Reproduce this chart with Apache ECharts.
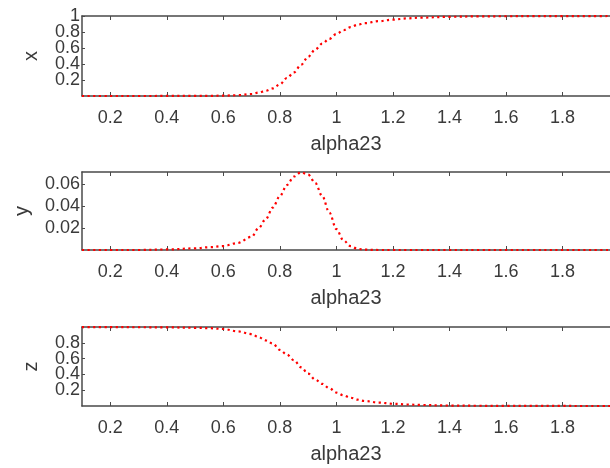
<!DOCTYPE html>
<html>
<head>
<meta charset="utf-8">
<script src="https://cdn.jsdelivr.net/npm/echarts@6/dist/echarts.min.js"></script>
<style>
  html, body { margin: 0; padding: 0; background: #fff; }
  #chart { width: 610px; height: 468px; }
</style>
</head>
<body>
<div id="chart"></div>
<script>
// alpha23 sample positions (denser around the transition)
var alpha = [0.1, 0.2, 0.3, 0.4, 0.5, 0.55, 0.6, 0.65, 0.7, 0.725, 0.75, 0.775, 0.8, 0.825,
  0.85, 0.875, 0.9, 0.925, 0.95, 0.975, 1.0, 1.025, 1.05, 1.075, 1.1, 1.15, 1.2, 1.25,
  1.3, 1.4, 1.5, 1.6, 1.7, 1.8, 1.9, 1.968];

var xVals = [0, 0, 0, 0.0005, 0.001, 0.002, 0.004, 0.01, 0.025, 0.043, 0.065, 0.095, 0.145, 0.225,
  0.295, 0.39, 0.49, 0.58, 0.655, 0.715, 0.775, 0.822, 0.86, 0.89, 0.91, 0.935, 0.955, 0.97,
  0.98, 0.99, 0.995, 0.997, 0.998, 0.999, 0.999, 1];

var yVals = [0, 0, 0, 0.0005, 0.0015, 0.0025, 0.0036, 0.0063, 0.012, 0.02, 0.028, 0.0385, 0.049, 0.059,
  0.0668, 0.0707, 0.0685, 0.061, 0.049, 0.034, 0.019, 0.0088, 0.0035, 0.001, 0.0003, 0, 0, 0,
  0, 0, 0, 0, 0, 0, 0, 0];

var zVals = [0.998, 0.998, 0.997, 0.995, 0.99, 0.985, 0.975, 0.945, 0.91, 0.87, 0.83, 0.79, 0.71, 0.65,
  0.58, 0.49, 0.41, 0.335, 0.28, 0.225, 0.17, 0.135, 0.105, 0.08, 0.063, 0.043, 0.028, 0.019,
  0.013, 0.006, 0.003, 0.002, 0.001, 0.0005, 0, 0];

var xTicks = [0.2, 0.4, 0.6, 0.8, 1, 1.2, 1.4, 1.6, 1.8];
var xTickY = [0.2, 0.4, 0.6, 0.8, 1];
var yTickY = [0.02, 0.04, 0.06];
var zTickY = [0.2, 0.4, 0.6, 0.8];
var panelNames = ["x", "y", "z"];
var panelMax = [1, 0.0709, 1];

var chart = echarts.init(document.getElementById("chart"));

var axisCol = "#4a4a4a";
var textCol = "#3a3a3a";
var fontFam = "Liberation Sans, Arial, sans-serif";

function pairs(vals) {
  return alpha.map(function(a, i) {
    return [a, vals[i]];
  });
}

function everyOther(arr, start) {
  return arr.filter(function(v, k) {
    return k % 2 === start;
  });
}

var grids = [
  { left: 82, right: 0, top: 16, height: 80 },
  { left: 82, right: 0, top: 172, height: 78 },
  { left: 82, right: 0, top: 327, height: 79 }
];

var xAxes = [];
var yAxes = [];
var series = [];
var allVals = [xVals, yVals, zVals];
var yTicksAll = [xTickY, yTickY, zTickY];

grids.forEach(function(g, i) {
  // bottom axis with labels
  xAxes.push({
    type: "value",
    gridIndex: i,
    position: "bottom",
    min: 0.1,
    max: 1.968,
    name: "alpha23",
    nameLocation: "middle",
    nameGap: 38,
    nameTextStyle: { color: textCol, fontSize: 20, fontFamily: fontFam },
    axisLine: { show: true, onZero: false, lineStyle: { color: axisCol, width: 1.5 } },
    axisTick: { show: true, inside: true, length: 4, customValues: xTicks, lineStyle: { color: axisCol } },
    axisLabel: {
      color: textCol, fontSize: 18, fontFamily: fontFam, margin: 13,
      customValues: xTicks
    },
    splitLine: { show: false }
  });
  // top box edge
  xAxes.push({
    type: "value",
    gridIndex: i,
    position: "top",
    min: 0.1,
    max: 1.968,
    axisLine: { show: true, onZero: false, lineStyle: { color: axisCol, width: 1.5 } },
    axisTick: { show: true, inside: true, length: 4, customValues: xTicks, lineStyle: { color: axisCol } },
    axisLabel: { show: false },
    splitLine: { show: false }
  });
  // main y axis: line, ticks, name and every other label
  yAxes.push({
    type: "value",
    gridIndex: i,
    position: "left",
    min: 0,
    max: panelMax[i],
    name: panelNames[i],
    nameLocation: "middle",
    nameRotate: 90,
    nameGap: i === 1 ? 50 : 41,
    nameTextStyle: { color: textCol, fontSize: 20, fontFamily: fontFam },
    axisLine: { show: true, onZero: false, lineStyle: { color: axisCol, width: 1.5 } },
    axisTick: { show: true, inside: true, length: 3, customValues: yTicksAll[i], lineStyle: { color: axisCol } },
    axisLabel: {
      color: textCol, fontSize: 18, fontFamily: fontFam, margin: 2,
      showMinLabel: true, showMaxLabel: true,
      customValues: everyOther(yTicksAll[i], 0)
    },
    splitLine: { show: false }
  });
  // second y axis on the same spot, carrying the remaining labels
  yAxes.push({
    type: "value",
    gridIndex: i,
    position: "left",
    offset: 0,
    min: 0,
    max: panelMax[i],
    axisLine: { show: false, onZero: false },
    axisTick: { show: false },
    axisLabel: {
      color: textCol, fontSize: 18, fontFamily: fontFam, margin: 2,
      showMinLabel: true, showMaxLabel: true,
      customValues: everyOther(yTicksAll[i], 1)
    },
    splitLine: { show: false }
  });
  series.push({
    type: "line",
    xAxisIndex: i * 2,
    yAxisIndex: i * 2,
    data: pairs(allVals[i]),
    smooth: 0.35,
    smoothMonotone: "x",
    showSymbol: false,
    clip: false,
    lineStyle: { color: "#ff0000", width: 2.2, type: [2.2, 3.4], cap: "butt" }
  });
});

chart.setOption({
  animation: false,
  backgroundColor: "#fff",
  grid: grids,
  xAxis: xAxes,
  yAxis: yAxes,
  series: series
});
</script>
</body>
</html>
